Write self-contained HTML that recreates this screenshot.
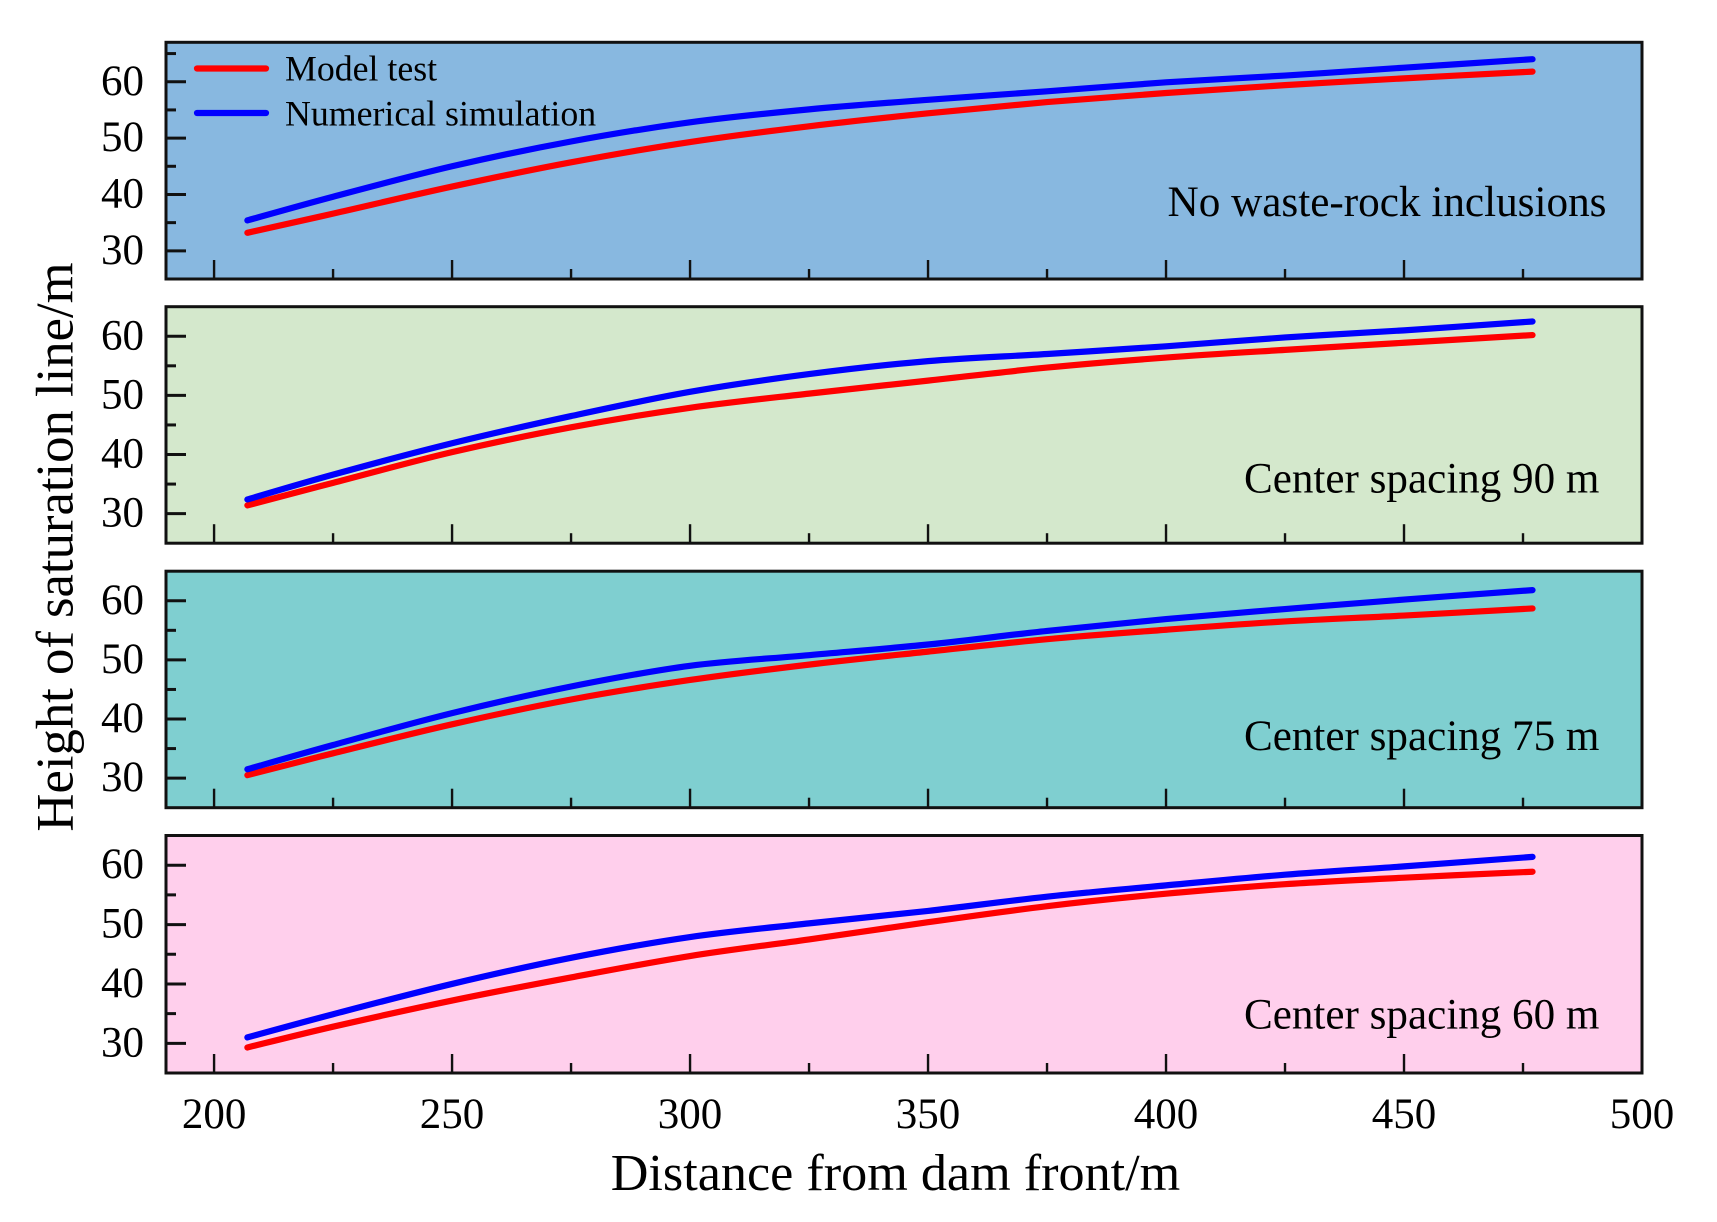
<!DOCTYPE html>
<html lang="en">
<head>
<meta charset="utf-8">
<title>Height of saturation line vs distance from dam front</title>
<style>
html,body{margin:0;padding:0;background:#fff;}
svg{display:block;}
text{font-family:"Liberation Serif","Times New Roman",serif;fill:#000;}
</style>
</head>
<body>
<svg id="chart" xmlns="http://www.w3.org/2000/svg" width="1717" height="1222" viewBox="0 0 1717 1222">
  <text x="72.5" y="547" font-size="52.7" text-anchor="middle" transform="rotate(-90 72.5 547)">Height of saturation line/m</text>
  <text x="895.5" y="1190" font-size="52.2" text-anchor="middle">Distance from dam front/m</text>
</svg>
<script>
const distances = [207, 225, 250, 275, 300, 325, 350, 375, 400, 425, 450, 477];
const panelLabels = ["No waste-rock inclusions", "Center spacing 90 m", "Center spacing 75 m", "Center spacing 60 m"];
const modelTest1 = [33.2, 36.6, 41.4, 45.7, 49.3, 52.1, 54.4, 56.4, 58.0, 59.4, 60.6, 61.8];
const numerical1 = [35.4, 39.6, 45.0, 49.4, 52.8, 55.1, 56.8, 58.3, 59.9, 61.1, 62.5, 64.0];
const modelTest2 = [31.4, 35.2, 40.4, 44.6, 47.9, 50.3, 52.5, 54.7, 56.4, 57.7, 58.9, 60.2];
const numerical2 = [32.4, 36.6, 41.9, 46.5, 50.6, 53.6, 55.8, 57.0, 58.3, 59.8, 61.0, 62.5];
const modelTest3 = [30.5, 34.2, 39.1, 43.3, 46.6, 49.2, 51.4, 53.5, 55.1, 56.5, 57.5, 58.7];
const numerical3 = [31.5, 35.6, 41.0, 45.5, 49.0, 50.8, 52.6, 54.9, 56.9, 58.6, 60.2, 61.8];
const modelTest4 = [29.3, 32.8, 37.2, 41.1, 44.7, 47.5, 50.4, 53.1, 55.2, 56.8, 57.9, 58.9];
const numerical4 = [31.0, 34.9, 40.0, 44.4, 47.9, 50.2, 52.3, 54.7, 56.6, 58.4, 59.8, 61.4];
const xTickLabels = [200, 250, 300, 350, 400, 450, 500];
const xMinorTicks = [225, 275, 325, 375, 425, 475];
const yTickLabels = [30, 40, 50, 60];
const yMinorTicks = [35, 45, 55, 65];
const legendLabels = ["Model test", "Numerical simulation"];

const modelSeries = [modelTest1, modelTest2, modelTest3, modelTest4];
const numericalSeries = [numerical1, numerical2, numerical3, numerical4];

const SVGNS = "http://www.w3.org/2000/svg";
const svg = document.getElementById("chart");
const plotLeft = 166, plotRight = 1642;
const xDomainMin = 189.9, xDomainMax = 500;
const layout = [
  {top: 42.3,  bottom: 279,   yMin: 25, yMax: 67, fill: "#88b8e0", labelY: 216, labelX: 1167.5, labelSize: 43.2},
  {top: 306.7, bottom: 543.2, yMin: 25, yMax: 65, fill: "#d4e8cc", labelY: 492.6, labelX: 1244, labelSize: 43.1},
  {top: 571.2, bottom: 807.7, yMin: 25, yMax: 65, fill: "#7fcfd0", labelY: 749.9, labelX: 1244, labelSize: 43.1},
  {top: 835.5, bottom: 1073,  yMin: 25, yMax: 65, fill: "#ffcfec", labelY: 1028.5, labelX: 1244, labelSize: 43.1}
];

function xScale(v) {
  return plotLeft + (v - xDomainMin) / (xDomainMax - xDomainMin) * (plotRight - plotLeft);
}
function yScale(p, v) {
  return p.bottom - (v - p.yMin) / (p.yMax - p.yMin) * (p.bottom - p.top);
}
function node(tag) {
  return document.createElementNS(SVGNS, tag);
}
function setLine(el, x1, y1, x2, y2, width) {
  el.setAttribute("x1", x1);
  el.setAttribute("y1", y1);
  el.setAttribute("x2", x2);
  el.setAttribute("y2", y2);
  el.setAttribute("stroke", "#111");
  el.setAttribute("stroke-width", width);
}
function smoothPath(p, values) {
  const pts = values.map((v, i) => [xScale(distances[i]), yScale(p, v)]);
  let d = "M" + pts[0][0].toFixed(2) + " " + pts[0][1].toFixed(2);
  for (let i = 0; i < pts.length - 1; i++) {
    const a = pts[Math.max(i - 1, 0)], b = pts[i], c = pts[i + 1], e = pts[Math.min(i + 2, pts.length - 1)];
    const c1x = b[0] + (c[0] - a[0]) / 6, c1y = b[1] + (c[1] - a[1]) / 6;
    const c2x = c[0] - (e[0] - b[0]) / 6, c2y = c[1] - (e[1] - b[1]) / 6;
    d += "C" + c1x.toFixed(2) + " " + c1y.toFixed(2) + " " + c2x.toFixed(2) + " " + c2y.toFixed(2) + " " + c[0].toFixed(2) + " " + c[1].toFixed(2);
  }
  return d;
}

layout.forEach((p, idx) => {
  const n = idx + 1;

  const group = node("g");
  
  
  svg.appendChild(group);

  const bg = node("rect");
  
  
  bg.setAttribute("x", plotLeft);
  bg.setAttribute("y", p.top);
  bg.setAttribute("width", plotRight - plotLeft);
  bg.setAttribute("height", p.bottom - p.top);
  bg.setAttribute("fill", p.fill);
  group.appendChild(bg);

  xTickLabels.filter(v => v < xDomainMax).forEach(v => {
    const t = node("line");
    
    
    setLine(t, xScale(v), p.bottom, xScale(v), p.bottom - 19, 2.4);
    group.appendChild(t);
  });
  xMinorTicks.forEach(v => {
    const t = node("line");
    
    
    setLine(t, xScale(v), p.bottom, xScale(v), p.bottom - 10, 2.4);
    group.appendChild(t);
  });
  yTickLabels.forEach(v => {
    const t = node("line");
    
    
    setLine(t, plotLeft, yScale(p, v), plotLeft + 20, yScale(p, v), 3);
    group.appendChild(t);

    const lab = node("text");
    
    
    lab.setAttribute("x", 144);
    lab.setAttribute("y", yScale(p, v) + 13);
    lab.setAttribute("font-size", 43);
    lab.setAttribute("text-anchor", "end");
    lab.textContent = v;
    group.appendChild(lab);
  });
  yMinorTicks.filter(v => yScale(p, v) > p.top).forEach(v => {
    const t = node("line");
    
    
    setLine(t, plotLeft, yScale(p, v), plotLeft + 10, yScale(p, v), 3);
    group.appendChild(t);
  });

  const model = node("path");
  
  
  model.setAttribute("d", smoothPath(p, modelSeries[idx]));
  model.setAttribute("fill", "none");
  model.setAttribute("stroke", "#ff0000");
  model.setAttribute("stroke-width", 6.2);
  model.setAttribute("stroke-linecap", "round");
  group.appendChild(model);

  const sim = node("path");
  
  
  sim.setAttribute("d", smoothPath(p, numericalSeries[idx]));
  sim.setAttribute("fill", "none");
  sim.setAttribute("stroke", "#0000ff");
  sim.setAttribute("stroke-width", 6.2);
  sim.setAttribute("stroke-linecap", "round");
  group.appendChild(sim);

  const label = node("text");
  
  
  label.setAttribute("x", p.labelX);
  label.setAttribute("y", p.labelY);
  label.setAttribute("font-size", p.labelSize);
  label.textContent = panelLabels[idx];
  group.appendChild(label);

  const frame = node("rect");
  
  
  frame.setAttribute("x", plotLeft);
  frame.setAttribute("y", p.top);
  frame.setAttribute("width", plotRight - plotLeft);
  frame.setAttribute("height", p.bottom - p.top);
  frame.setAttribute("fill", "none");
  frame.setAttribute("stroke", "#111");
  frame.setAttribute("stroke-width", 3);
  group.appendChild(frame);
});

xTickLabels.forEach(v => {
  const lab = node("text");
  
  
  lab.setAttribute("x", xScale(v));
  lab.setAttribute("y", 1128);
  lab.setAttribute("font-size", 43);
  lab.setAttribute("text-anchor", "middle");
  lab.textContent = v;
  svg.appendChild(lab);
});

const legendColors = ["#ff0000", "#0000ff"];
const legendLineY = [68.5, 113];
const legendTextY = [80.5, 125.5];
legendLabels.forEach((name, i) => {
  const swatch = node("line");
  
  
  swatch.setAttribute("x1", 197);
  swatch.setAttribute("y1", legendLineY[i]);
  swatch.setAttribute("x2", 266);
  swatch.setAttribute("y2", legendLineY[i]);
  swatch.setAttribute("stroke", legendColors[i]);
  swatch.setAttribute("stroke-width", 6.2);
  swatch.setAttribute("stroke-linecap", "round");
  svg.appendChild(swatch);

  const text = node("text");
  
  
  text.setAttribute("x", 285);
  text.setAttribute("y", legendTextY[i]);
  text.setAttribute("font-size", 35.8);
  text.textContent = name;
  svg.appendChild(text);
});
</script>
</body>
</html>
